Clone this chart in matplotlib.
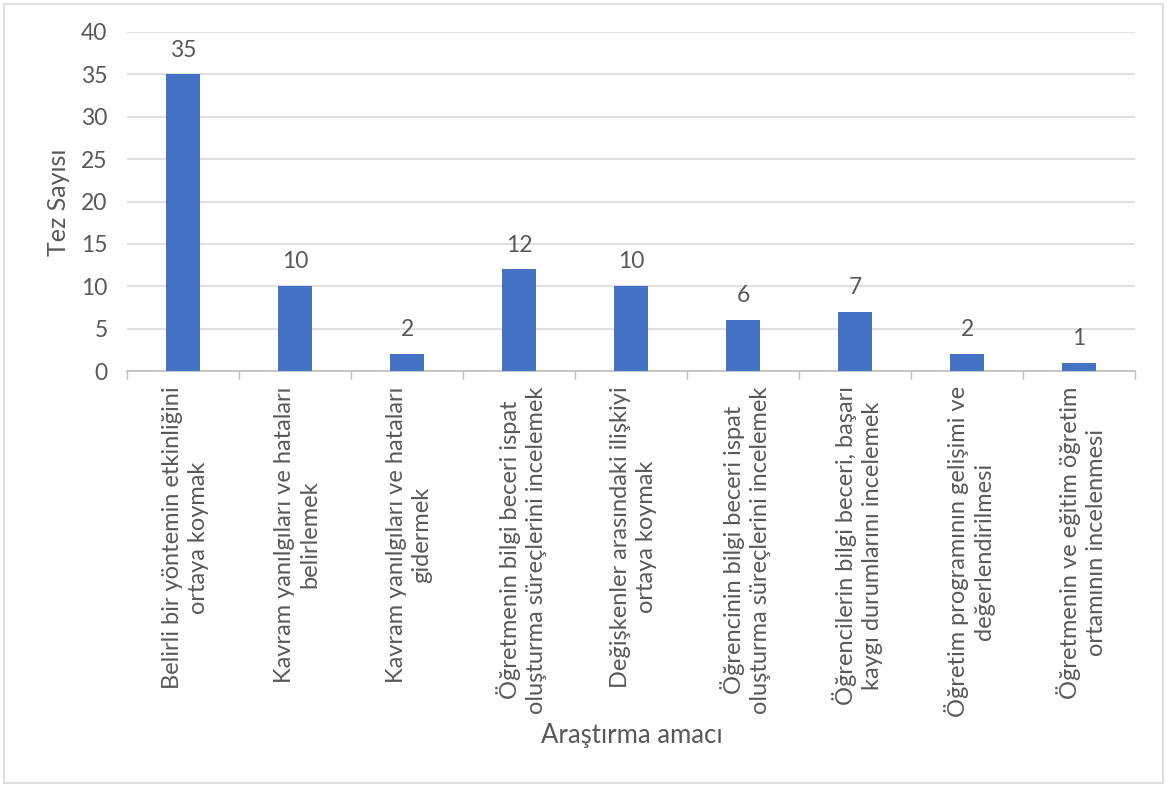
import matplotlib
matplotlib.use("Agg")
import matplotlib.pyplot as plt
from matplotlib.patches import Rectangle

categories = [
    "Belirli bir yöntemin etkinliğini\nortaya koymak",
    "Kavram yanılgıları ve hataları\nbelirlemek",
    "Kavram yanılgıları ve hataları\ngidermek",
    "Öğretmenin bilgi beceri ispat\noluşturma süreçlerini incelemek",
    "Değişkenler arasındaki ilişkiyi\nortaya koymak",
    "Öğrencinin bilgi beceri ispat\noluşturma süreçlerini incelemek",
    "Öğrencilerin bilgi beceri, başarı\nkaygı durumlarını incelemek",
    "Öğretim programının gelişimi ve\ndeğerlendirilmesi",
    "Öğretmenin ve eğitim öğretim\nortamının incelenmesi",
]
values = [35, 10, 2, 12, 10, 6, 7, 2, 1]
yticks = [0, 5, 10, 15, 20, 25, 30, 35, 40]

plt.rcParams['font.family'] = ['Lato', 'DejaVu Sans']
TXT = '#595959'
BAR = '#4472C4'

W, H = 1167, 787
fig = plt.figure(figsize=(W / 100, H / 100), dpi=100)
ax = fig.add_axes([127 / W, 1 - 371 / H, (1135 - 127) / W, (371 - 32) / H])

x = list(range(len(values)))
ax.bar(x, values, width=0.31, color=BAR, zorder=3)
for xi, v in zip(x, values):
    ax.text(xi, v + 2.1, str(v), ha='center', va='baseline', fontsize=16.5, color=TXT)

ax.set_xlim(-0.5, len(values) - 0.5)
ax.set_ylim(0, 40)
ax.set_yticks(yticks)
ax.set_yticklabels([str(t) for t in yticks], fontsize=16.5, color=TXT)
ax.yaxis.grid(True, color='#d9d9d9', linewidth=1.2, zorder=0)
ax.tick_params(axis='y', length=0, pad=14)

ax.set_xticks([i + 0.5 for i in range(-1, len(values))])
ax.set_xticklabels([])
ax.tick_params(axis='x', length=6, color='#bfbfbf', width=1, direction='out')
for xi, lab in zip(x, categories):
    ax.text(xi + 0.02, -0.045, lab, transform=ax.get_xaxis_transform(), rotation=90,
            ha='center', va='top', multialignment='center', fontsize=17,
            color=TXT, linespacing=1.27)

for s in ['top', 'right', 'left']:
    ax.spines[s].set_visible(False)
ax.spines['bottom'].set_color('#bfbfbf')
ax.spines['bottom'].set_linewidth(1.2)

fig.text(58 / W, 1 - 202 / H, 'Tez Sayısı', rotation=90, ha='center', va='center',
         fontsize=18, color=TXT)
fig.text(632 / W, 1 - 735 / H, 'Araştırma amacı', ha='center', va='center',
         fontsize=18.5, color=TXT)

fig.patches.append(Rectangle((4 / W, 4 / H), (1163 - 4) / W, (783 - 4) / H,
                             transform=fig.transFigure, fill=False,
                             edgecolor='#d9d9d9', linewidth=1.2))

fig.savefig('out.png', dpi=100, facecolor='white')
